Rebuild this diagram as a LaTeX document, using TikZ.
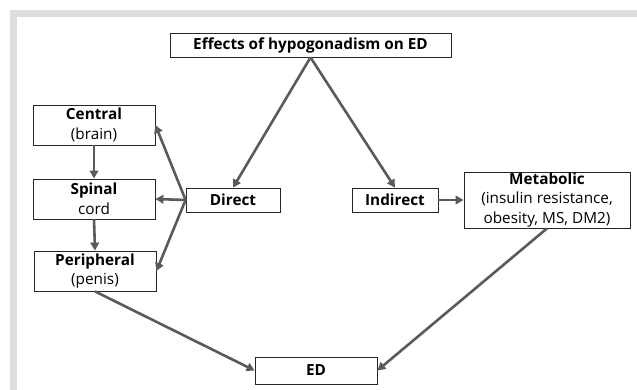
\documentclass[tikz,border=0pt]{standalone}
\usepackage{fontspec}
\setmainfont{Open Sans}
\usetikzlibrary{arrows.meta}
\definecolor{framegray}{HTML}{DDDDDD}
\definecolor{arrowgray}{HTML}{5A5A5A}
\tikzset{
  box/.style={draw=black!85, line width=0.8pt, fill=white, rectangle, inner sep=0pt, align=center, font=\fontsize{15.3}{19.5}\selectfont},
  conn/.style={draw=arrowgray, line width=2.6pt, -{Triangle[length=8pt,width=8.5pt]}}
}
\begin{document}
\begin{tikzpicture}[x=1pt,y=-1pt]
\useasboundingbox (0,0) rectangle (637,390);
\fill[white] (0,0) rectangle (637,390);
\fill[framegray] (10,10) rectangle (637,17);
\fill[framegray] (10,10) rectangle (17,390);

\node[box, minimum width=281pt, minimum height=24pt] (title) at (310.5,45) {\textbf{Effects of hypogonadism on ED}};
\node[box, minimum width=122pt, minimum height=40pt] (central) at (94,125) {\textbf{Central}\\(brain)};
\node[box, minimum width=122pt, minimum height=40pt] (spinal) at (94,199) {\textbf{Spinal}\\cord};
\node[box, minimum width=122pt, minimum height=40pt] (peripheral) at (95,271) {\textbf{Peripheral}\\(penis)};
\node[box, minimum width=94pt, minimum height=24pt] (direct) at (233,200) {\textbf{Direct}};
\node[box, minimum width=86pt, minimum height=24pt] (indirect) at (395,200) {\textbf{Indirect}};
\node[box, minimum width=166pt, minimum height=56pt] (metabolic) at (547,200) {\textbf{Metabolic}\\(insulin resistance,\\obesity, MS, DM2)};
\node[box, minimum width=122pt, minimum height=27pt] (ed) at (316,370.5) {\textbf{ED}};

\draw[conn] (title.south) -- (direct.north);
\draw[conn] (title.south) -- (indirect.north);
\draw[conn] (direct.west) -- (central.east);
\draw[conn] (direct.west) -- (spinal.east);
\draw[conn] (direct.west) -- (peripheral.east);
\draw[conn] (central.south) -- (spinal.north);
\draw[conn] (spinal.south) -- (peripheral.north);
\draw[conn] (indirect.east) -- (metabolic.west);
\draw[conn] (peripheral.south) -- (ed.west);
\draw[conn] (metabolic.south) -- (ed.east);
\end{tikzpicture}
\end{document}
